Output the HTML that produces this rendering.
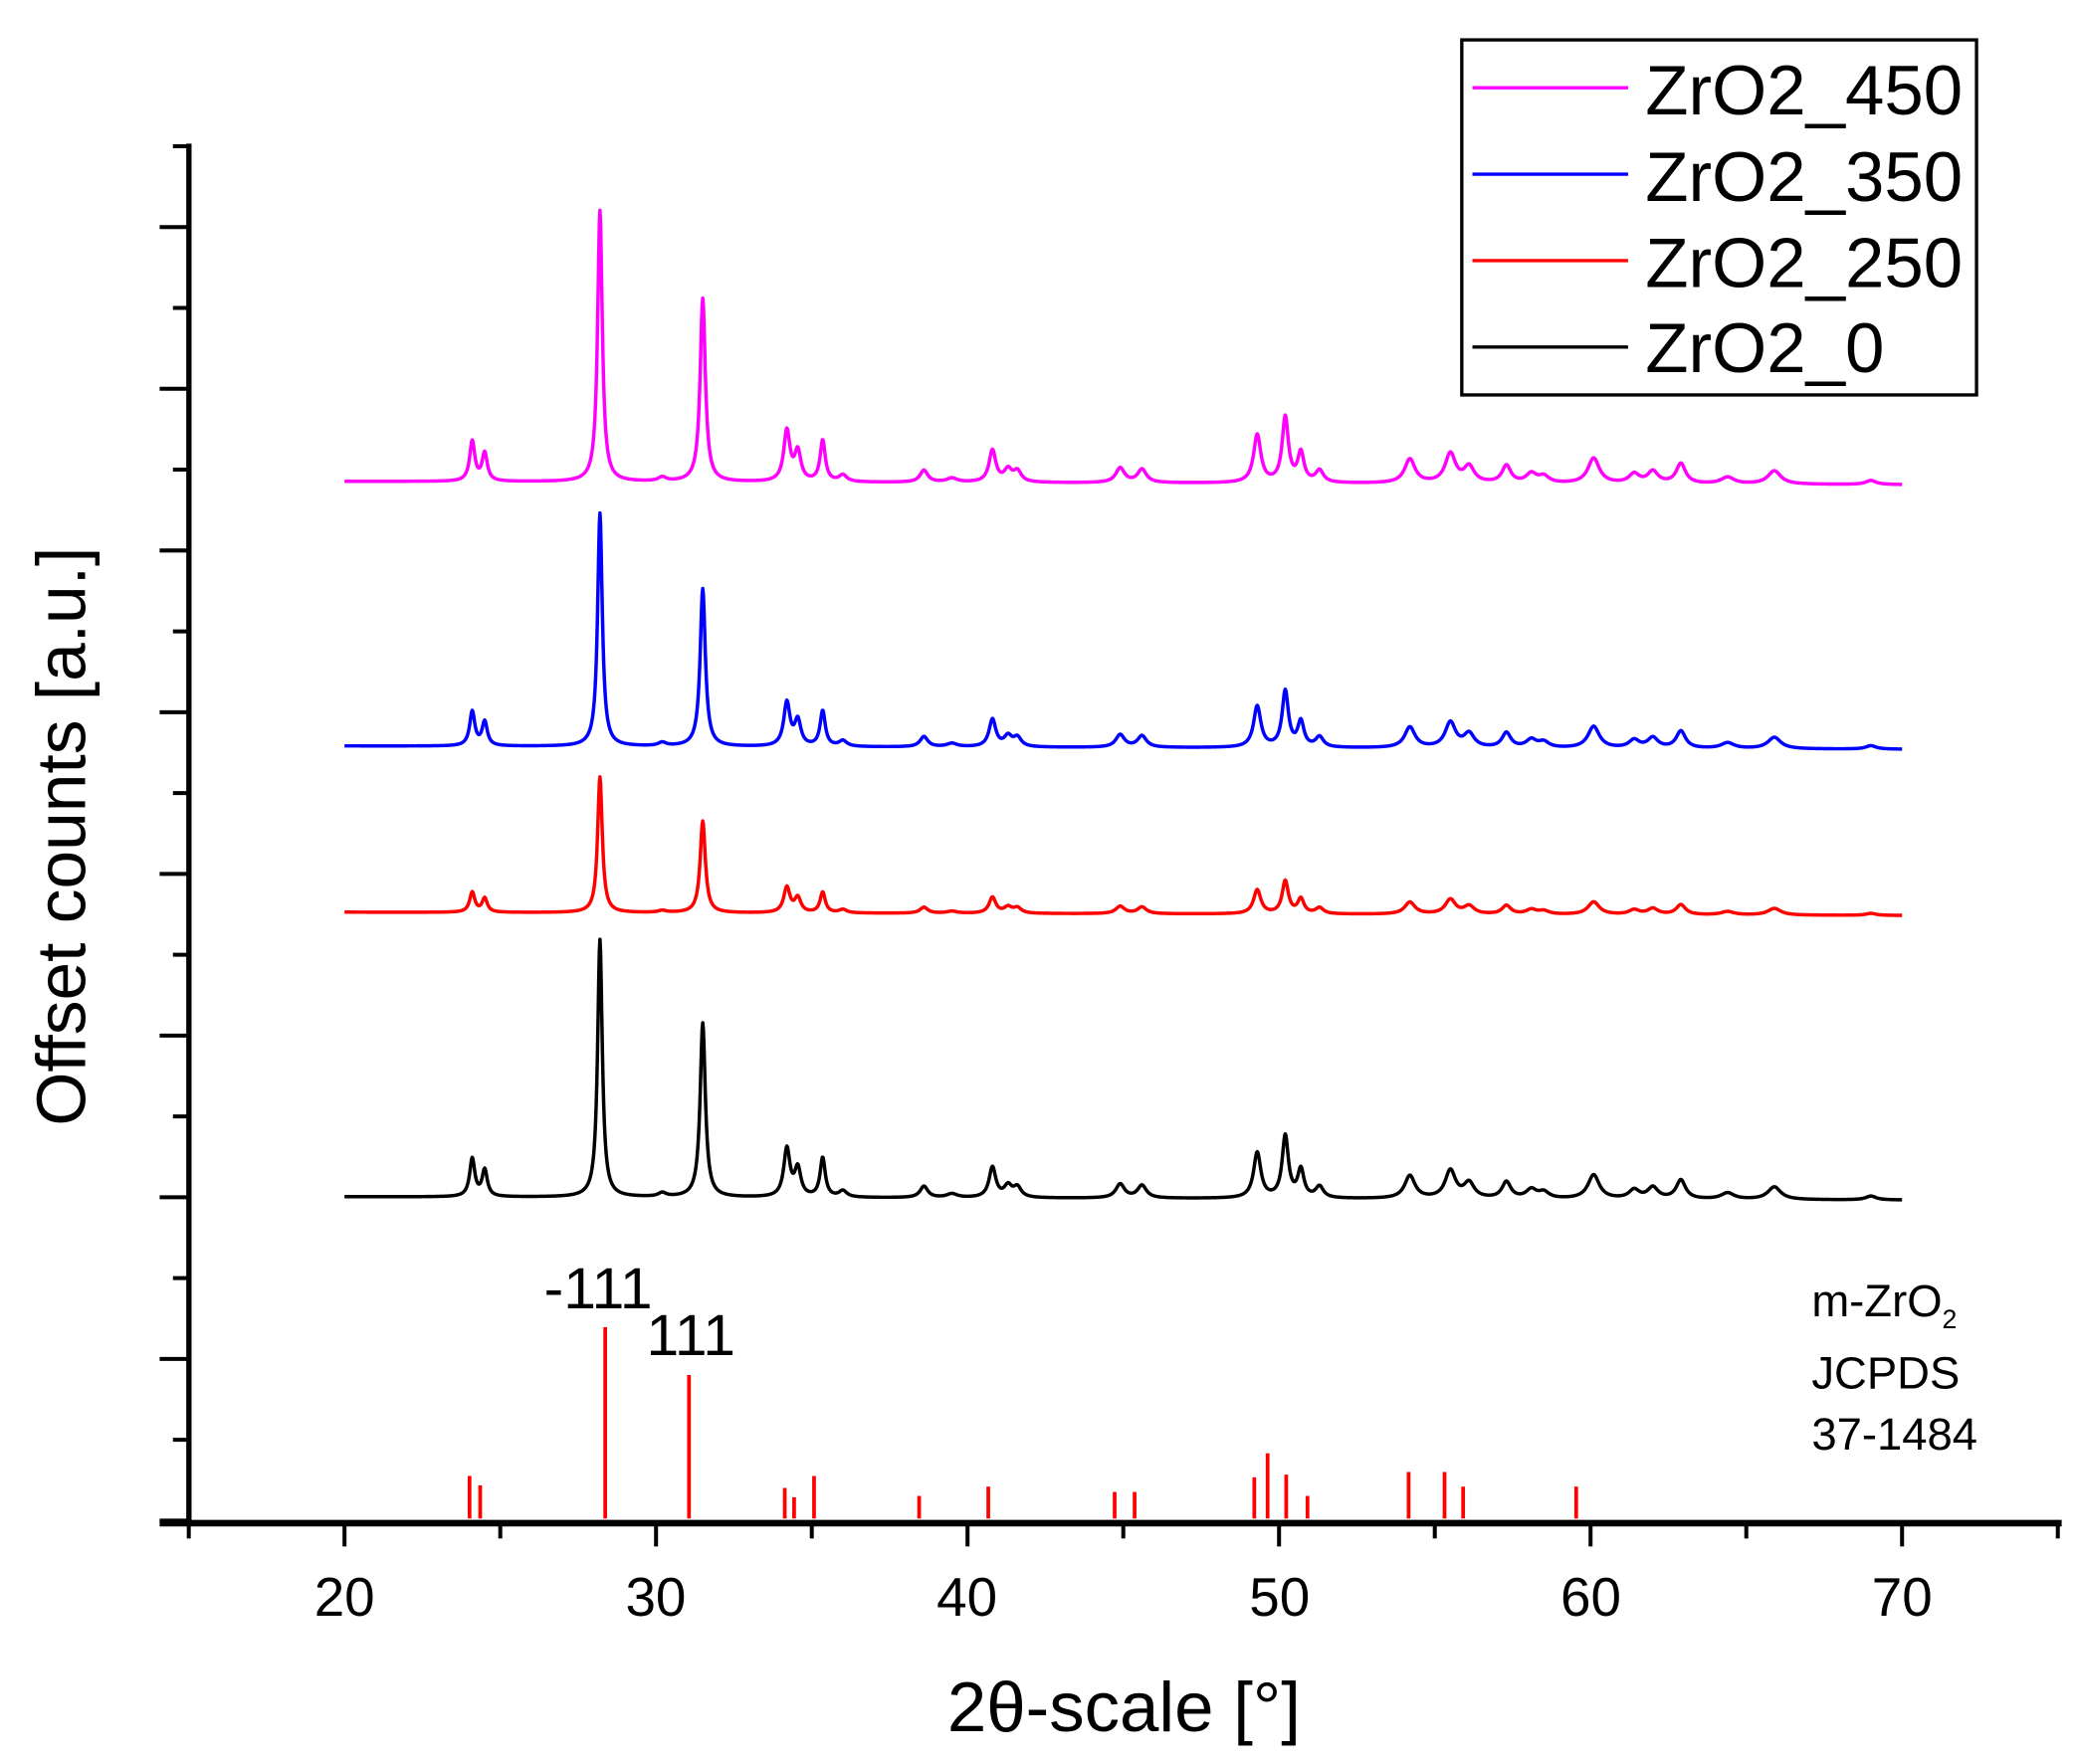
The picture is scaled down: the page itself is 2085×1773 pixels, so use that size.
<!DOCTYPE html>
<html><head><meta charset="utf-8"><style>
html,body{margin:0;padding:0;background:#fff;}
svg{display:block;}
text{font-family:"Liberation Sans",Arial,sans-serif;fill:#000;}
</style></head><body>
<svg id="s" width="2085" height="1773" viewBox="0 0 1560 1326.6" xmlns="http://www.w3.org/2000/svg">
<g id="axes" stroke="#000" stroke-linecap="butt">
<line x1="142" y1="108" x2="142" y2="1147" stroke-width="4"/>
<line x1="120" y1="1145.5" x2="1550" y2="1145.5" stroke-width="5"/>
</g>
<g id="ticks" stroke="#000" stroke-width="3"></g>
<g id="series" fill="none" stroke-width="2.6" stroke-linejoin="round"></g>
<g id="sticks" stroke="#f00" stroke-width="2.8"></g>
<g font-size="41" text-anchor="middle">
<text x="259" y="1215">20</text><text x="493" y="1215">30</text><text x="727" y="1215">40</text>
<text x="962" y="1215">50</text><text x="1196" y="1215">60</text><text x="1430" y="1215">70</text>
</g>
<text x="845" y="1302" font-size="53" text-anchor="middle">2θ-scale [°]</text>
<text transform="translate(64,629) rotate(-90)" font-size="52" text-anchor="middle">Offset counts [a.u.]</text>
<rect x="1099" y="30" width="387" height="267" fill="none" stroke="#000" stroke-width="2.5"/>
<g stroke-width="2.5">
<line x1="1107" y1="66" x2="1224" y2="66" stroke="#f0f"/>
<line x1="1107" y1="131" x2="1224" y2="131" stroke="#00f"/>
<line x1="1107" y1="196" x2="1224" y2="196" stroke="#f00"/>
<line x1="1107" y1="261" x2="1224" y2="261" stroke="#000"/>
</g>
<g font-size="53">
<text x="1237" y="86">ZrO2_450</text><text x="1237" y="151">ZrO2_350</text>
<text x="1237" y="216">ZrO2_250</text><text x="1237" y="280">ZrO2_0</text>
</g>
<text x="409" y="984" font-size="44">-111</text>
<text x="486" y="1019" font-size="44">111</text>
<g font-size="34">
<text x="1362" y="990">m-ZrO<tspan font-size="20" dy="9">2</tspan></text>
<text x="1362" y="1044">JCPDS</text>
<text x="1362" y="1090">37-1484</text>
</g>
</svg>
<script>
var NS="http://www.w3.org/2000/svg";
function el(p,t,a){var e=document.createElementNS(NS,t);for(var k in a)e.setAttribute(k,a[k]);p.appendChild(e);return e;}
var X=function(d){return 259+(d-20)*23.42;};
var tk=document.getElementById('ticks');
for(var i=0;i<=17;i++){var y=110+i*60.8;var L=(i%2==1);el(tk,'line',{x1:L?120:130,y1:y,x2:142,y2:y});}
for(var d=15;d<=75;d+=5){var x=X(d);var M=(d%10==0);el(tk,'line',{x1:x,y1:1145,x2:x,y2:M?1163:1157});}
var P=[[24.1,30,.1],[24.5,21,.1],[28.2,204,.09],[30.2,3,.15],[31.5,138,.1],[34.2,38,.12],[34.55,22,.12],[35.35,31,.1],[36.0,5,.15],[38.6,9,.15],[39.5,3,.2],[40.8,24,.13],[41.3,9,.15],[41.6,8,.15],[44.9,11,.17],[45.6,10,.17],[49.3,36,.14],[50.2,49,.12],[50.7,22,.12],[51.3,9,.15],[54.2,18,.2],[55.5,22,.2],[56.1,12,.2],[57.3,13,.17],[58.1,7,.2],[58.5,5,.2],[60.1,19,.22],[61.4,7,.2],[62.0,9,.2],[62.9,15,.18],[64.4,5,.25],[65.9,10,.25],[69.0,3,.2]];
var S=[['#f0f',362,1,3],['#00f',561,0.86,2],['#f00',686,0.5,1],['#000',900,0.95,2]];
var g=document.getElementById('series');
S.forEach(function(s){var pts=[];for(var x=20;x<=70.001;x+=0.02){var v=0;P.forEach(function(p){var dd=x-p[0];v+=p[1]*p[2]*p[2]/(dd*dd+p[2]*p[2]);});var y=s[1]+(x-20)*0.05-v*s[2];pts.push(X(x).toFixed(2)+','+y.toFixed(2));}
el(g,'polyline',{points:pts.join(' '),stroke:s[0]});});
var K=[1110,1117,998,1034,1119,1126,1110,1125,1118,1122,1122,1111,1093,1109,1125,1107,1107,1118,1118];
var st=document.getElementById('sticks');
var KX=[353,361,455,518,590,597,612,691,743,838,853,943,953,967,983,1059,1086,1100,1185];
K.forEach(function(k,i){el(st,'line',{x1:KX[i],y1:k,x2:KX[i],y2:1142});});
</script>
</body></html>
